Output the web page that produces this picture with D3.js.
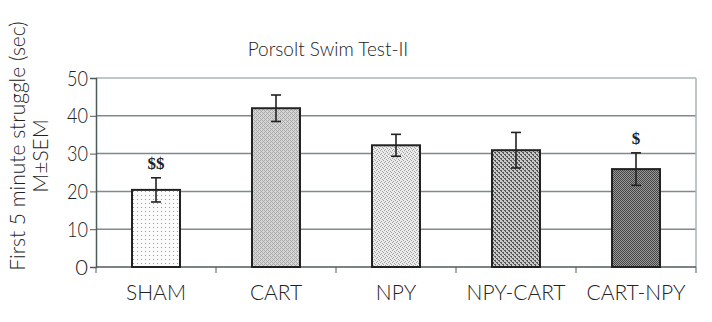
<!DOCTYPE html>
<html>
<head>
<meta charset="utf-8">
<script src="https://cdn.jsdelivr.net/npm/d3@7"></script>
<style>
  body { margin: 0; background: #fff; }
  text { font-family: "Lato", "Open Sans", sans-serif; fill: #222; }
</style>
</head>
<body>
<div class="chart"></div>
<script>
// Data.
const groups = ['SHAM', 'CART', 'NPY', 'NPY-CART', 'CART-NPY'];
const means = [20.4, 42.0, 32.2, 30.9, 25.9];
const sems = [3.2, 3.5, 2.9, 4.7, 4.3];
const marks = ['$$', '', '', '', '$'];
const yTicks = [0, 10, 20, 30, 40, 50];

const margin = { top: 78, right: 16, bottom: 55, left: 96 },
    width = 712 - margin.left - margin.right,
    height = 322 - margin.top - margin.bottom;

const svg = d3.select('.chart')
    .append('svg')
        .attr('width', 712)
        .attr('height', 322);

// Fill patterns.
const defs = svg.append('defs');
function pattern(id, bg, fg, cells) {
    const p = defs.append('pattern')
        .attr('id', id)
        .attr('width', 4).attr('height', 4)
        .attr('patternUnits', 'userSpaceOnUse');
    p.append('rect').attr('width', 4).attr('height', 4).attr('fill', bg);
    cells.forEach(c => p.append('rect')
        .attr('x', c[0]).attr('y', c[1]).attr('width', 1).attr('height', 1)
        .attr('fill', fg));
}
pattern('p0', '#fbfbfb', '#9a9a9a', [[1, 1]]);
pattern('p1', '#d6d6d6', '#a8a8a8', [[0, 0], [2, 0], [0, 2], [2, 2], [1, 1], [3, 3]]);
pattern('p2', '#ececec', '#a0a0a0', [[0, 0], [2, 1], [1, 3], [3, 2]]);
pattern('p3', '#c8c8c8', '#555', [[0, 0], [1, 0], [2, 2], [3, 2], [1, 1], [3, 3]]);
pattern('p4', '#9a9a9a', '#444', [[0, 0], [2, 0], [1, 1], [3, 1], [0, 2], [2, 2], [1, 3], [3, 3]]);

const g = svg.append('g')
    .attr('transform', `translate(${margin.left},${margin.top})`);

// Scales.
const x = d3.scaleBand().domain(groups).range([0, width]).paddingInner(0.6).paddingOuter(0.3);
const y = d3.scaleLinear().domain([0, 50]).range([height, 0]);

// Grid.
g.append('g')
    .selectAll('line')
    .data(yTicks.filter(d => d > 0))
    .join('line')
        .attr('x1', 0).attr('x2', width)
        .attr('y1', d => y(d)).attr('y2', d => y(d))
        .attr('stroke', d => d === 50 ? '#a9b6b6' : '#7f8a8a')
        .attr('stroke-width', 1.5);

g.append('line')
    .attr('x1', width).attr('x2', width)
    .attr('y1', 0).attr('y2', height)
    .attr('stroke', '#a9b6b6').attr('stroke-width', 1.5);

// Y axis.
const yAxis = g.append('g')
    .call(d3.axisLeft(y).tickValues(yTicks).tickSize(6).tickPadding(2));
yAxis.select('.domain').attr('stroke', '#4f5a5a').attr('stroke-width', 1.5);
yAxis.selectAll('.tick line').attr('stroke', '#4f5a5a');
yAxis.selectAll('.tick text').attr('font-size', 22).attr('font-weight', 300).attr('fill', '#333')
    .attr('textLength', d => d > 0 ? 21 : null)
    .attr('lengthAdjust', 'spacingAndGlyphs');

// X axis.
const xAxis = g.append('g')
    .attr('transform', `translate(0,${height})`);
xAxis.append('line')
    .attr('x1', 0).attr('x2', width)
    .attr('stroke', '#4f5a5a').attr('stroke-width', 1.5);
xAxis.selectAll('.sep')
    .data(d3.range(groups.length + 1))
    .join('line')
        .attr('class', 'sep')
        .attr('x1', i => i * x.step()).attr('x2', i => i * x.step())
        .attr('y1', 0).attr('y2', 6)
        .attr('stroke', '#4f5a5a');
xAxis.selectAll('text')
    .data(groups)
    .join('text')
        .attr('x', d => x(d) + x.bandwidth() / 2)
        .attr('y', 33)
        .attr('text-anchor', 'middle')
        .attr('font-size', 21)
        .attr('font-weight', 300)
        .text(d => d);

// Bars.
g.append('g')
    .selectAll('rect')
    .data(groups)
    .join('rect')
        .attr('x', d => x(d))
        .attr('y', (d, i) => y(means[i]))
        .attr('width', x.bandwidth())
        .attr('height', (d, i) => height - y(means[i]))
        .attr('fill', (d, i) => `url(#p${i})`)
        .attr('stroke', '#222')
        .attr('stroke-width', 2);

// Error bars.
const err = g.append('g')
    .selectAll('g')
    .data(groups)
    .join('g')
        .attr('stroke', '#222')
        .attr('stroke-width', 1.6);
err.append('line')
    .attr('x1', d => x(d) + x.bandwidth() / 2)
    .attr('x2', d => x(d) + x.bandwidth() / 2)
    .attr('y1', (d, i) => y(means[i] + sems[i]))
    .attr('y2', (d, i) => y(means[i] - sems[i]));
[1, -1].forEach(s => {
    err.append('line')
        .attr('x1', d => x(d) + x.bandwidth() / 2 - 5)
        .attr('x2', d => x(d) + x.bandwidth() / 2 + 5)
        .attr('y1', (d, i) => y(means[i] + s * sems[i]))
        .attr('y2', (d, i) => y(means[i] + s * sems[i]));
});

// Significance marks.
g.append('g')
    .selectAll('text')
    .data(groups)
    .join('text')
        .attr('x', d => x(d) + x.bandwidth() / 2)
        .attr('y', (d, i) => y(means[i] + sems[i]) - 9)
        .attr('text-anchor', 'middle')
        .style('font-family', '"Liberation Serif", serif')
        .attr('font-weight', 'bold')
        .attr('font-size', 17)
        .text((d, i) => marks[i]);

// Title.
svg.append('text')
    .attr('x', 328)
    .attr('y', 56)
    .attr('text-anchor', 'middle')
    .attr('font-size', 19)
    .attr('font-weight', 300)
    .text('Porsolt Swim Test-II');

// Y label.
const ylab = svg.append('text')
    .attr('transform', 'translate(25,146) rotate(-90)')
    .attr('text-anchor', 'middle')
    .attr('font-size', 21)
    .attr('font-weight', 300);
ylab.append('tspan').attr('x', 0).attr('dy', 0).text('First 5 minute struggle (sec)');
ylab.append('tspan').attr('x', -10).attr('dy', 23).text('M±SEM');
</script>
</body>
</html>
